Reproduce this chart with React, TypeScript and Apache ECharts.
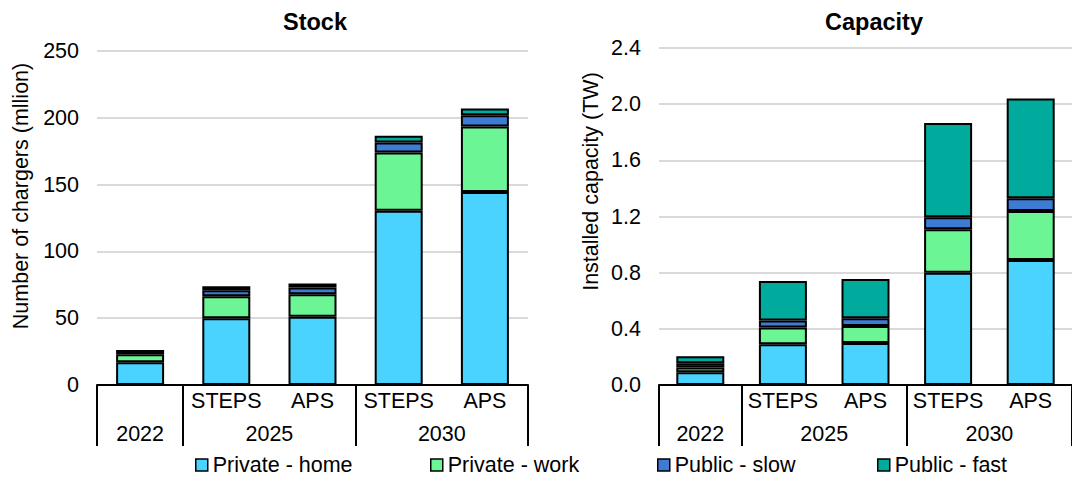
import React, { useEffect, useRef } from "react";
import * as echarts from "echarts";

const scenarioLabels = ["", "STEPS", "APS", "STEPS", "APS"];
const yearLabels = ["", "2022", "", "", "2025", "", "", "", "2030", "", ""];
const yearTickIdx = [0, 2, 6, 10];
const yearLabelIdx = [1, 4, 8];

const seriesNames = ["Private - home", "Private - work", "Public - slow", "Public - fast"];
const seriesColors = ["#4ad3ff", "#6cf594", "#3d7bd4", "#00ab9e"];

// Stock (million chargers)
const stockHome = [17, 50, 51, 130.5, 144.5];
const stockWork = [6, 16.5, 17, 43.5, 49];
const stockSlow = [1.7, 4.5, 5, 7.5, 8.5];
const stockFast = [1.5, 3, 3, 5, 5];

// Capacity (TW)
const capHome = [0.09, 0.29, 0.3, 0.8, 0.89];
const capWork = [0.035, 0.12, 0.12, 0.31, 0.35];
const capSlow = [0.03, 0.05, 0.055, 0.085, 0.09];
const capFast = [0.05, 0.28, 0.28, 0.67, 0.71];

const legendLefts = [195, 430, 657, 877];

const FONT = "'Liberation Sans', Arial, sans-serif";
const FS = 21.5;

export default function App() {
  const ref = useRef<HTMLDivElement>(null);
  useEffect(() => {
    if (!ref.current) return;
    const chart = echarts.init(ref.current, undefined, { renderer: "svg" });
    const stockData = [stockHome, stockWork, stockSlow, stockFast];
    const capData = [capHome, capWork, capSlow, capFast];

    const scenAxis = (gridIndex: number) => ({
      type: "category",
      gridIndex,
      position: "bottom",
      data: scenarioLabels,
      axisLine: { show: true, lineStyle: { color: "#000", width: 2 } },
      axisTick: { show: false },
      axisLabel: { interval: 0, margin: 5, color: "#000", fontSize: FS, fontFamily: FONT },
      splitLine: { show: false },
    });
    const yearAxis = (gridIndex: number) => ({
      type: "category",
      gridIndex,
      position: "bottom",
      boundaryGap: false,
      data: yearLabels,
      axisLine: { show: false },
      axisTick: {
        show: true,
        length: 61,
        interval: (i: number) => yearTickIdx.includes(i),
        lineStyle: { color: "#000", width: 2 },
      },
      axisLabel: {
        interval: (i: number) => yearLabelIdx.includes(i),
        margin: 38,
        color: "#000",
        fontSize: FS,
        fontFamily: FONT,
      },
      splitLine: { show: false },
    });

    const mkSeries = (data: number[][], xi: number, yi: number, stack: string) =>
      data.map((d, k) => ({
        name: seriesNames[k],
        type: "bar",
        stack,
        xAxisIndex: xi,
        yAxisIndex: yi,
        barWidth: 48,
        data: d,
        itemStyle: { color: seriesColors[k], borderColor: "#000", borderWidth: 2 },
      }));

    const titleStyle = { fontSize: 23.5, fontWeight: "bold", color: "#000", fontFamily: FONT };

    chart.setOption({
      animation: false,
      textStyle: { fontFamily: FONT },
      title: [
        { text: "Stock", left: 315, top: 10, padding: 0, textAlign: "center", textStyle: titleStyle },
        { text: "Capacity", left: 874, top: 10, padding: 0, textAlign: "center", textStyle: titleStyle },
      ],
      legend: seriesNames.map((n, k) => ({
        data: [n],
        left: legendLefts[k],
        top: 454,
        padding: 0,
        itemWidth: 12,
        itemHeight: 12,
        icon: "rect",
        itemStyle: { borderColor: "#000", borderWidth: 1.5 },
        textStyle: { fontSize: FS, color: "#000", fontFamily: FONT },
        selectedMode: false,
      })),
      grid: [
        { left: 97, top: 51, width: 431, height: 334 },
        { left: 659, top: 48, width: 422, height: 337 },
      ],
      xAxis: [scenAxis(0), yearAxis(0), scenAxis(1), yearAxis(1)],
      yAxis: [
        {
          type: "value",
          gridIndex: 0,
          min: 0,
          max: 250,
          interval: 50,
          name: "Number of chargers (mllion)",
          nameLocation: "middle",
          nameGap: 65,
          nameTextStyle: { fontSize: FS, color: "#000", fontFamily: FONT, padding: [0, 0, 0, 44] },
          axisLine: { show: false },
          axisTick: { show: false },
          axisLabel: { margin: 18, color: "#000", fontSize: FS, fontFamily: FONT },
          splitLine: { lineStyle: { color: "#d9d9d9", width: 2 } },
        },
        {
          type: "value",
          gridIndex: 1,
          min: 0,
          max: 2.4,
          interval: 0.4,
          name: "Installed capacity (TW)",
          nameLocation: "middle",
          nameGap: 57,
          nameTextStyle: { fontSize: FS, color: "#000", fontFamily: FONT, padding: [0, 0, 0, 70] },
          axisLine: { show: false },
          axisTick: { show: false },
          axisLabel: {
            margin: 18,
            color: "#000",
            fontSize: FS,
            fontFamily: FONT,
            formatter: (v: number) => v.toFixed(1),
          },
          splitLine: { lineStyle: { color: "#d9d9d9", width: 2 } },
        },
      ],
      series: [...mkSeries(stockData, 0, 0, "stock"), ...mkSeries(capData, 2, 1, "cap")],
    });
    return () => chart.dispose();
  }, []);
  return (
    <div
      ref={ref}
      style={{ position: "fixed", left: 0, top: 0, width: 1072, height: 478, background: "#fff" }}
    />
  );
}
